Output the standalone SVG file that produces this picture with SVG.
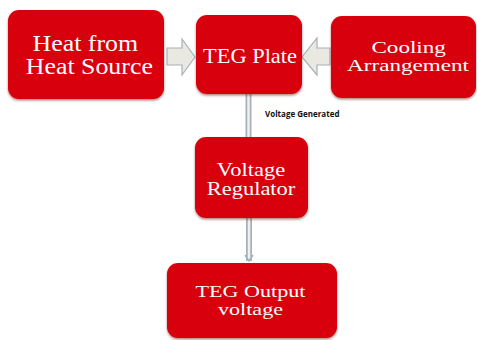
<svg xmlns="http://www.w3.org/2000/svg" width="477" height="340" viewBox="0 0 477 340">
<defs>
<filter id="sh" x="-10%" y="-10%" width="120%" height="130%">
<feDropShadow dx="0" dy="1.5" stdDeviation="1.2" flood-color="#600" flood-opacity="0.5"/>
</filter>
</defs>
<style>
.box{fill:#d9000c;filter:url(#sh)}
.t{font-family:"Liberation Serif","Times New Roman",serif;fill:#ffffff;text-anchor:middle}
.blk{fill:#e9e9e1;stroke:#a8b0b8;stroke-width:1.2}
.outer{stroke:#a9b0b8;stroke-width:6;fill:none}
.inner{stroke:#eef0f2;stroke-width:2.5;fill:none}
.lbl{font-family:"Open Sans","DejaVu Sans",sans-serif;font-weight:bold;font-size:8px;fill:#111}
</style>
<rect width="477" height="340" fill="#ffffff"/>
<g id="connectors">
<polygon class="blk" points="167,48 182,48 182,39 195,57 182,75 182,65 167,65"/>
<polygon class="blk" points="330,48 317,48 317,38 302,57 317,75 317,65 330,65"/>
<line class="outer" x1="248.5" y1="94" x2="248.5" y2="137"/>
<line class="inner" x1="248.5" y1="94" x2="248.5" y2="137"/>
<line class="outer" x1="249" y1="218" x2="249" y2="261"/>
<line class="inner" x1="249" y1="218" x2="249" y2="260"/>
<path d="M245,255 L249,261 L253,255" fill="none" stroke="#a9b0b8" stroke-width="1.5"/>
<text class="lbl" x="265" y="117">Voltage Generated</text>
</g>
<g id="heat-source">
<rect class="box" x="8" y="10" width="156" height="89" rx="11"/>
<text class="t" font-size="22.5" transform="translate(87 0) scale(1.15 1)"><tspan x="-1.5" y="51">Heat from</tspan><tspan x="2" y="74">Heat Source</tspan></text>
</g>
<g id="teg-plate">
<rect class="box" x="196" y="15" width="106" height="79" rx="11"/>
<text class="t" font-size="20" transform="translate(250 0) scale(1.12 1)"><tspan x="0" y="63">TEG Plate</tspan></text>
</g>
<g id="cooling">
<rect class="box" x="331" y="16" width="145" height="82" rx="11"/>
<text class="t" font-size="17.5" transform="translate(408 0) scale(1.32 1)"><tspan x="0.5" y="53">Cooling</tspan><tspan x="0" y="71">Arrangement</tspan></text>
</g>
<g id="voltage-regulator">
<rect class="box" x="195" y="137" width="113" height="81" rx="11"/>
<text class="t" font-size="18" transform="translate(251 0) scale(1.25 1)"><tspan x="0" y="176">Voltage</tspan><tspan x="0" y="195">Regulator</tspan></text>
</g>
<g id="teg-output">
<rect class="box" x="167" y="263" width="170" height="75" rx="11"/>
<text class="t" font-size="17" transform="translate(250.5 0) scale(1.3 1)"><tspan x="0" y="297">TEG Output</tspan><tspan x="0" y="315">voltage</tspan></text>
</g>
</svg>
